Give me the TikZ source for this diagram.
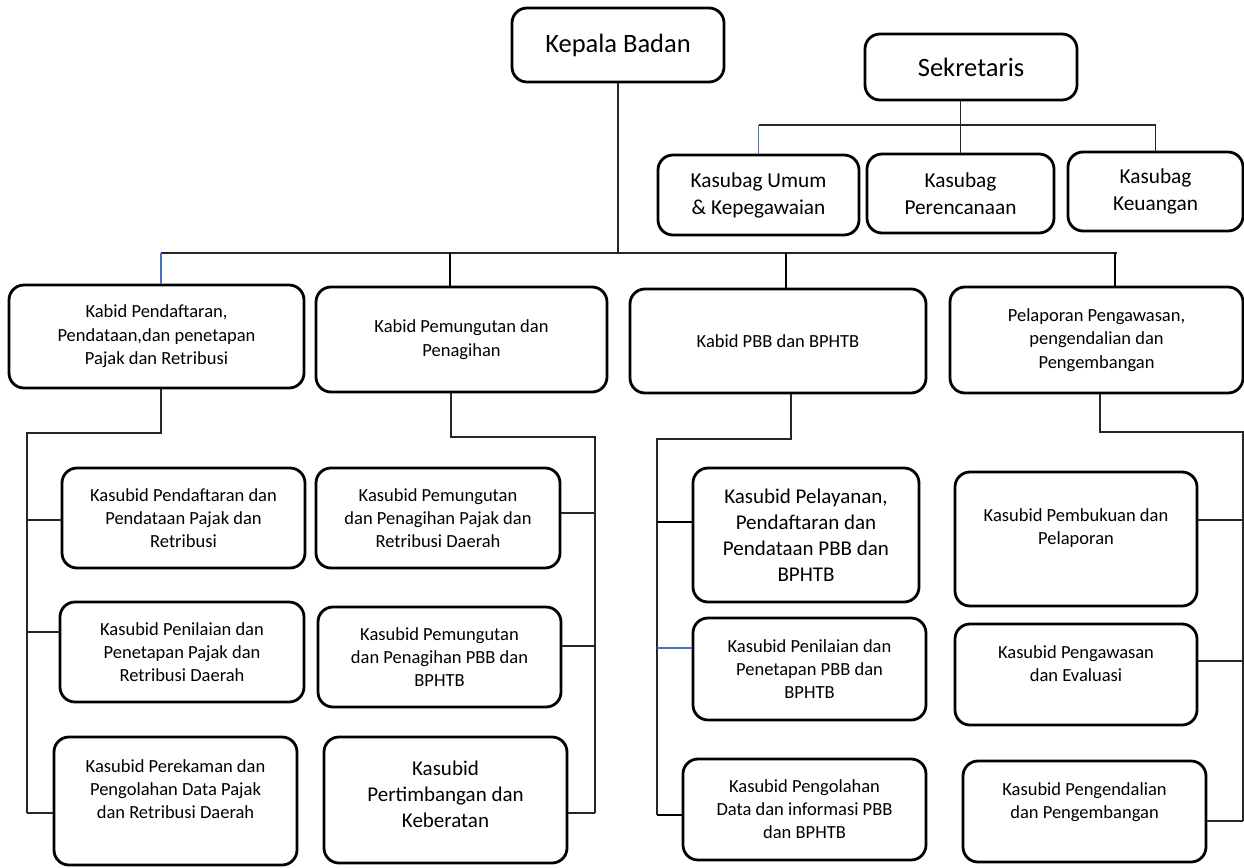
\documentclass[tikz,border=0pt]{standalone}
\usepackage{fontspec}
\setmainfont{Carlito}
\definecolor{wordblue}{RGB}{68,114,196}
\tikzset{
  box/.style={draw, line width=2.8pt, rounded corners=15pt, align=center, inner sep=3pt},
  head/.style={box, font=\fontsize{26.5}{32}\selectfont},
  subbag/.style={box, font=\fontsize{21.3}{27}\selectfont},
  kabid/.style={box, font=\fontsize{18.5}{23.5}\selectfont},
  subbid/.style={box, font=\fontsize{18.5}{23}\selectfont},
  bigsubbid/.style={box, font=\fontsize{21}{26}\selectfont},
  wire/.style={line width=1.3pt, draw=black!85},
}
\begin{document}
\begin{tikzpicture}[x=1pt, y=-1pt]
  \useasboundingbox (0,0) rectangle (1244,867);

  % top: head and secretary
  \node[head, minimum width=212, minimum height=74] (kepala) at (618,45) {Kepala Badan};
  \node[head, minimum width=212, minimum height=66] (sekretaris) at (971,67) {Sekretaris};
  \node[subbag, minimum width=201, minimum height=80] (umum) at (758.5,195) {Kasubag Umum\\\& Kepegawaian};
  \node[subbag, minimum width=187, minimum height=79] (perencanaan) at (960.5,193.5) {Kasubag\\Perencanaan};
  \node[subbag, minimum width=175, minimum height=79] (keuangan) at (1155.5,191.5) {Kasubag\\Keuangan};

  % kabid row
  \node[kabid, minimum width=295, minimum height=103] (kabidA) at (156.5,336.5) {Kabid Pendaftaran,\\Pendataan,dan penetapan\\Pajak dan Retribusi};
  \node[kabid, minimum width=291, minimum height=105] (kabidB) at (461.5,339.5) {Kabid Pemungutan dan\\Penagihan};
  \node[kabid, minimum width=296, minimum height=104] (kabidC) at (778,341) {Kabid PBB dan BPHTB};
  \node[kabid, minimum width=293, minimum height=106] (kabidD) at (1096.5,340) {Pelaporan Pengawasan,\\pengendalian dan\\Pengembangan};

  % kasubid, column A
  \node[subbid, minimum width=243, minimum height=100] (subA1) at (183.5,518) {Kasubid Pendaftaran dan\\Pendataan Pajak dan\\Retribusi};
  \node[subbid, minimum width=244, minimum height=100] (subA2) at (182,652) {Kasubid Penilaian dan\\Penetapan Pajak dan\\Retribusi Daerah};
  \node[subbid, minimum width=243, minimum height=128] (subA3) at (175.5,801) {Kasubid Perekaman dan\\Pengolahan Data Pajak\\dan Retribusi Daerah\\[0pt]};

  % kasubid, column B
  \node[subbid, minimum width=244, minimum height=100] (subB1) at (438,518) {Kasubid Pemungutan\\dan Penagihan Pajak dan\\Retribusi Daerah};
  \node[subbid, minimum width=243, minimum height=100] (subB2) at (439.5,657) {Kasubid Pemungutan\\dan Penagihan PBB dan\\BPHTB};
  \node[bigsubbid, minimum width=243, minimum height=126] (subB3) at (445.5,800) {Kasubid\\Pertimbangan dan\\Keberatan\\[-14pt]};

  % kasubid, column C
  \node[bigsubbid, minimum width=226, minimum height=134] (subC1) at (806,535) {Kasubid Pelayanan,\\Pendaftaran dan\\Pendataan PBB dan\\BPHTB};
  \node[subbid, minimum width=233, minimum height=102] (subC2) at (809.5,669) {Kasubid Penilaian dan\\Penetapan PBB dan\\BPHTB};
  \node[subbid, minimum width=243, minimum height=101] (subC3) at (804.5,809.5) {Kasubid Pengolahan\\Data dan informasi PBB\\dan BPHTB};

  % kasubid, column D
  \node[subbid, minimum width=242, minimum height=134] (subD1) at (1076,539) {Kasubid Pembukuan dan\\Pelaporan\\[2pt]};
  \node[subbid, minimum width=242, minimum height=101] (subD2) at (1076,674.5) {Kasubid Pengawasan\\dan Evaluasi\\[-2pt]};
  \node[subbid, minimum width=243, minimum height=101] (subD3) at (1084.5,811.5) {Kasubid Pengendalian\\dan Pengembangan\\[-1pt]};

  % secretary lines
  \draw[wire] (sekretaris.south -| perencanaan.north) -- (perencanaan.north);
  \draw[wire] (umum.north |- 0,125) -- (keuangan.north |- 0,125);
  \draw[wire, draw=wordblue] (umum.north |- 0,125) -- (umum.north);
  \draw[wire] (keuangan.north |- 0,125) -- (keuangan.north);

  % main bus
  \draw[wire] (kepala) -- (kepala |- 0,253);
  \draw[wire] (161,253) -- (1117,253);
  \foreach \n/\x/\c in {kabidA/161/wordblue, kabidB/450/black, kabidC/786/black, kabidD/1115/black}
    \draw[wire, draw=\c] (\x,253) -- (\n.north -| \x,253);

  % trunks under each kabid
  \coordinate (trunkA) at (27,433);
  \coordinate (trunkB) at (595,437);
  \coordinate (trunkC) at (657,439);
  \coordinate (trunkD) at (1243,432);
  \draw[wire] (kabidA.south -| 161,0) |- (trunkA) -- (trunkA |- 0,813);
  \draw[wire] (kabidB.south -| 451,0) |- (trunkB) -- (trunkB |- 0,813);
  \draw[wire] (kabidC.south -| 791,0) |- (trunkC) -- (trunkC |- 0,815);
  \draw[wire] (kabidD.south -| 1100,0) |- (trunkD) -- (trunkD |- 0,821);

  % branches
  \foreach \n/\y in {subA1/520, subA2/632, subA3/813}
    \draw[wire] (trunkA |- 0,\y) -- (\n.west |- 0,\y);
  \foreach \n/\y in {subB1/513, subB2/646, subB3/813}
    \draw[wire] (trunkB |- 0,\y) -- (\n.east |- 0,\y);
  \foreach \n/\y/\c in {subC1/522/black, subC2/648/wordblue, subC3/815/black}
    \draw[wire, draw=\c] (trunkC |- 0,\y) -- (\n.west |- 0,\y);
  \foreach \n/\y in {subD1/520, subD2/661, subD3/821}
    \draw[wire] (trunkD |- 0,\y) -- (\n.east |- 0,\y);

\end{tikzpicture}
\end{document}
